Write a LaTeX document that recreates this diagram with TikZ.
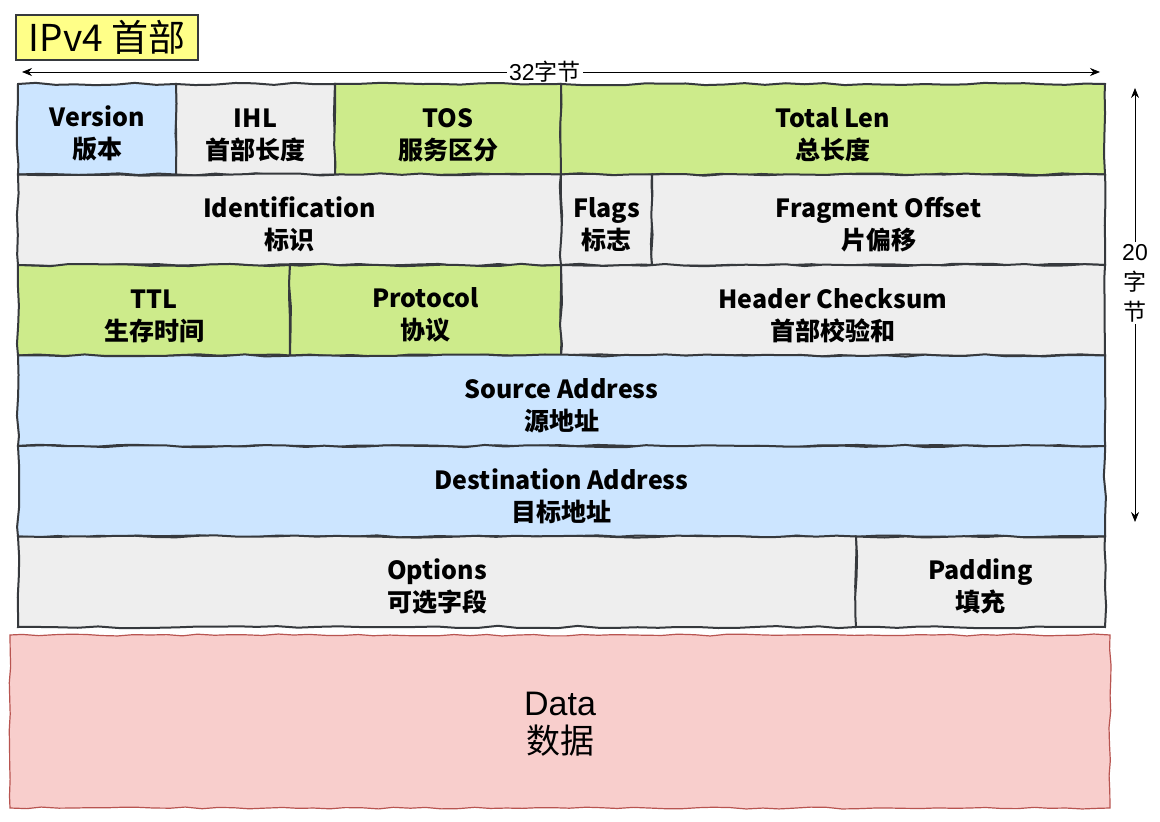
\documentclass[tikz,border=0pt]{standalone}
\usepackage{fontspec}
\setmainfont{Noto Sans CJK SC}
\newfontfamily\arialfont{Liberation Sans}
\usetikzlibrary{arrows.meta,decorations.pathmorphing}

\definecolor{bluecell}{HTML}{CCE5FF}
\definecolor{graycell}{HTML}{EEEEEE}
\definecolor{greencell}{HTML}{CDEB8B}
\definecolor{titlefill}{HTML}{FFFF88}
\definecolor{datafill}{HTML}{F8CECC}
\definecolor{dataline}{HTML}{B85450}
\definecolor{cellline}{HTML}{36393D}

\tikzset{
  cell/.style={draw=cellline, line width=1pt, anchor=north west, inner sep=0pt,
    align=center, minimum height=45.25pt, text height=31pt,
    font=\fontsize{12.5}{16}\selectfont\bfseries,
    decorate, decoration={random steps, segment length=10pt, amplitude=0.6pt}},
  dimlabel/.style={fill=white, inner sep=1pt, align=center,
    font=\fontsize{11.5}{15}\selectfont},
  >={Stealth[length=5pt,width=4pt]}
}

\begin{document}
\begin{tikzpicture}[x=0.5pt,y=-0.5pt]
  \useasboundingbox (0,0) rectangle (1160,822);

  % title
  \node [draw=cellline, line width=1pt, fill=titlefill, minimum width=91pt,
    minimum height=22.5pt, inner sep=0pt, font=\fontsize{18.5}{20}\selectfont]
    (title) at (107,37.5) {IPv4 首部};

  % width arrow
  \coordinate (wleft) at (22,72);
  \coordinate (wright) at (1100,72);
  \draw [<->, thin] (wleft) -- node[dimlabel, pos=0.485] (wlabel) {{\arialfont 32}字节} (wright);

  % height arrow
  \coordinate (htop) at (1135,88);
  \coordinate (hbottom) at (1135,522);
  \draw [<->, thin] (htop) -- node[dimlabel, pos=0.45] (hlabel) {{\arialfont 20}\\字\\节} (hbottom);

  % row 1
  \node [cell, fill=bluecell, minimum width=79pt] (version) at (17,83) {Version\\版本};
  \node [cell, fill=graycell, minimum width=79.5pt] (ihl) at (175,83) {IHL\\首部长度};
  \node [cell, fill=greencell, minimum width=113pt] (tos) at (334,83) {TOS\\服务区分};
  \node [cell, fill=greencell, minimum width=272pt] (totallen) at (560,83) {Total Len\\总长度};

  % row 2
  \node [cell, fill=graycell, minimum width=271.5pt] (ident) at (17,173.5) {Identification\\标识};
  \node [cell, fill=graycell, minimum width=45.5pt] (flags) at (560,173.5) {Flags\\标志};
  \node [cell, fill=graycell, minimum width=226.5pt] (fragoffset) at (651,173.5) {Fragment Offset\\片偏移};

  % row 3
  \node [cell, fill=greencell, minimum width=136pt] (ttl) at (17,264) {TTL\\生存时间};
  \node [cell, fill=greencell, minimum width=135.5pt] (protocol) at (289,264) {Protocol\\协议};
  \node [cell, fill=graycell, minimum width=272pt] (checksum) at (560,264) {Header Checksum\\首部校验和};

  % addresses
  \node [cell, fill=bluecell, minimum width=543.5pt] (srcaddr) at (17,354.5) {Source Address\\源地址};
  \node [cell, fill=bluecell, minimum width=543.5pt] (dstaddr) at (17,445) {Destination Address\\目标地址};

  % options
  \node [cell, fill=graycell, minimum width=419pt] (options) at (17,535.5) {Options\\可选字段};
  \node [cell, fill=graycell, minimum width=124.5pt] (padding) at (855,535.5) {Padding\\填充};

  % data
  \node [draw=dataline, line width=0.6pt, fill=datafill, minimum width=550pt,
    minimum height=86.5pt, inner sep=0pt, align=center, text height=33pt,
    font=\fontsize{17}{19}\selectfont,
    decorate, decoration={random steps, segment length=8pt, amplitude=0.5pt}]
    (data) at (560,721.5) {{\arialfont Data}\\数据};

\end{tikzpicture}
\end{document}
